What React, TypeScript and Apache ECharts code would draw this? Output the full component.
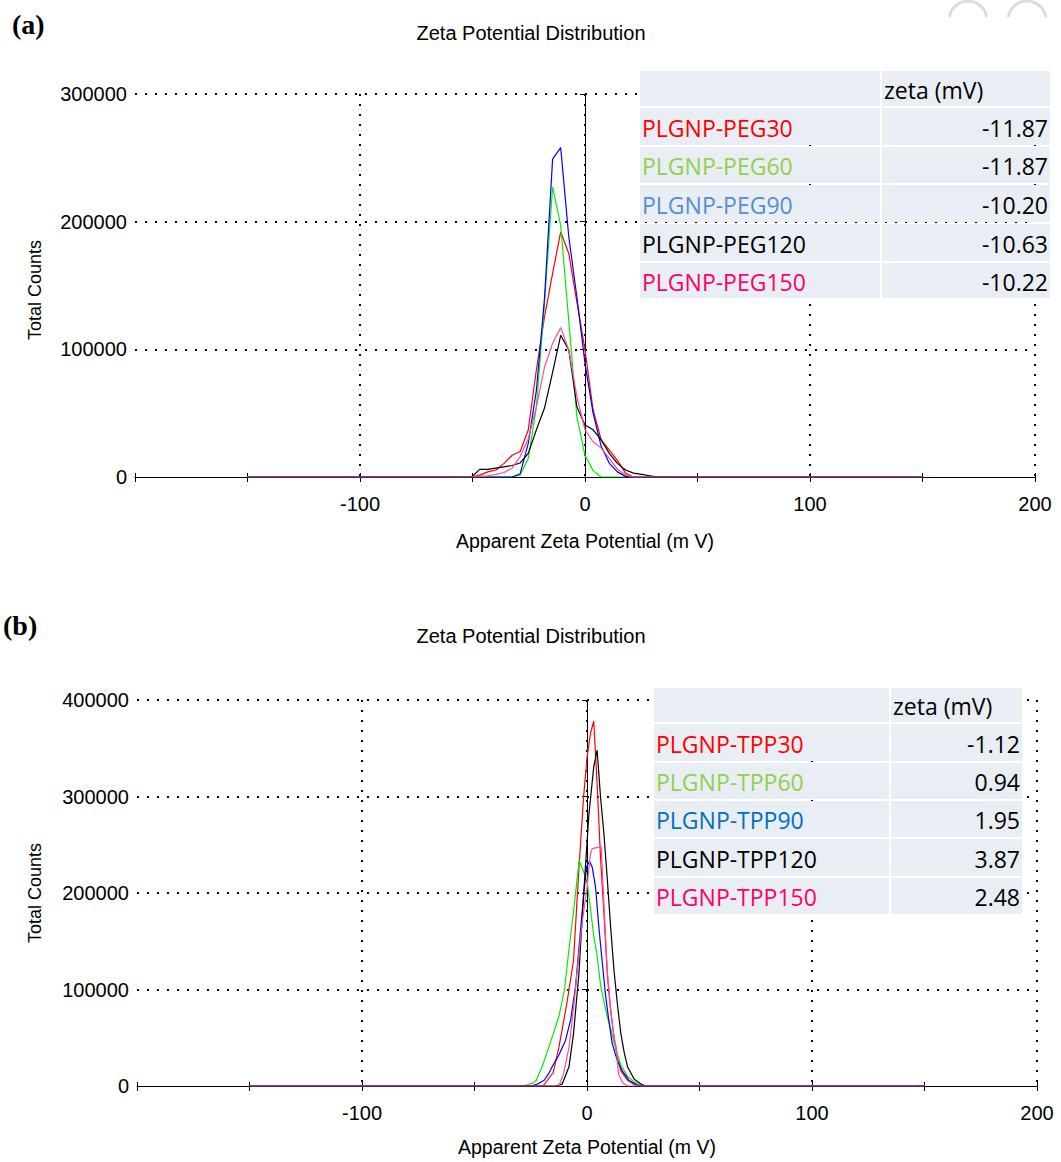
import React, { useEffect, useRef } from 'react';
import * as echarts from 'echarts';

// ---------- Panel (a) data ----------
const pegX = [-150, -50.4, -46.8, -43.2, -39.6, -36, -32.4, -28.8, -25.2, -21.6, -18, -14.4, -10.8, -7.2, -3.6, 0, 3.6, 7.2, 10.8, 14.4, 18, 21.6, 25.2, 28.8, 32.4, 150];
const peg30 = [0, 0, 1500, 4000, 5500, 10700, 17000, 20000, 37000, 84000, 125500, 159500, 192000, 175000, 137000, 99500, 52500, 29000, 21000, 13000, 3000, 0, 0, 0, 0, 0];
const peg60 = [0, 0, 0, 0, 0, 0, 0, 1500, 14600, 55000, 136000, 227000, 197000, 122000, 47000, 17000, 5000, 0, 0, 0, 0, 0, 0, 0, 0, 0];
const peg90 = [0, 0, 0, 0, 0, 0, 0, 2600, 26600, 68000, 140000, 249000, 258000, 188000, 141000, 89000, 50000, 24000, 10700, 4000, 500, 0, 0, 0, 0, 0];
const peg120 = [0, 0, 6000, 6000, 7000, 8000, 9000, 11000, 18500, 37000, 54000, 82000, 111000, 99500, 55000, 40700, 37000, 29000, 18500, 10700, 5500, 3000, 2000, 1000, 0, 0];
const peg150 = [0, 0, 500, 1000, 2000, 3500, 7000, 16000, 30000, 55000, 86000, 104700, 117000, 99500, 63000, 37000, 27600, 22600, 14600, 6000, 1500, 0, 0, 0, 0, 0];

const pegNames = ['PLGNP-PEG30', 'PLGNP-PEG60', 'PLGNP-PEG90', 'PLGNP-PEG120', 'PLGNP-PEG150'];
const pegZeta = ['-11.87', '-11.87', '-10.20', '-10.63', '-10.22'];
const pegTextColors = ['#ff0000', '#92d050', '#558ed5', '#000000', '#ff0066'];

// ---------- Panel (b) data: [mV, counts] ----------
const tpp30 = [[-150, 0], [-19.5, 0], [-15, 14000], [-12.5, 40000], [-9, 85000], [-6, 130000], [-3.6, 225000], [-1.5, 300000], [0, 340000], [1.5, 365000], [3, 378000], [4.5, 313000], [6, 237000], [7.5, 180000], [9, 116000], [10.5, 78000], [12, 51000], [13.5, 30000], [15, 16000], [18, 6000], [21, 1500], [24, 0], [150, 0]];
const tpp60 = [[-150, 0], [-30, 0], [-27, 1000], [-24, 3000], [-22.5, 6000], [-20, 20000], [-18, 33000], [-15, 54000], [-12.5, 72000], [-10, 100000], [-8, 142000], [-6, 180000], [-3.5, 234000], [-1.5, 222000], [0, 212000], [1.5, 185000], [3, 155000], [4.5, 135000], [6, 105000], [7.5, 88000], [9, 72000], [10.5, 60000], [12, 45000], [13.5, 33000], [15, 22000], [18, 10000], [21, 4000], [24, 1000], [26, 0], [150, 0]];
const tpp90 = [[-150, 0], [-25, 0], [-22, 2000], [-19, 6000], [-17, 13000], [-15.5, 20000], [-12.5, 32000], [-9.6, 47000], [-7.3, 68000], [-5.1, 103000], [-3, 158000], [-1.4, 200000], [-0.2, 227000], [1.1, 233000], [2.3, 227000], [3.8, 206000], [5.3, 164000], [6.7, 130000], [8.2, 95000], [9.7, 68000], [11.2, 44000], [13.4, 27000], [15.6, 16000], [18.6, 6000], [22.3, 1000], [25, 0], [150, 0]];
const tpp120 = [[-150, 0], [-14, 0], [-11, 2000], [-8, 20000], [-6, 54000], [-3.6, 116000], [-2, 180000], [-0.7, 227000], [0.8, 280000], [3, 331000], [4.5, 348000], [6, 300000], [7.5, 262000], [9, 215000], [10.5, 165000], [12, 120000], [13.5, 85000], [15, 55000], [16.5, 35000], [18, 20000], [21, 7000], [24, 2000], [26, 0], [150, 0]];
const tpp150 = [[-150, 0], [-12.5, 0], [-10.5, 12000], [-8, 40000], [-6, 80000], [-3.6, 137000], [-2, 172000], [0, 206000], [1.5, 240000], [2.3, 246000], [6.3, 248000], [7.5, 190000], [9, 120000], [10.5, 80000], [12, 50000], [13, 40000], [14, 12000], [16, 3000], [18, 0], [150, 0]];

const tppNames = ['PLGNP-TPP30', 'PLGNP-TPP60', 'PLGNP-TPP90', 'PLGNP-TPP120', 'PLGNP-TPP150'];
const tppZeta = ['-1.12', '0.94', '1.95', '3.87', '2.48'];
const tppTextColors = ['#ff0000', '#92d050', '#0070c0', '#000000', '#ff0066'];

const lineColors = ['#ff0000', '#00ee00', '#0000ff', '#000000', '#ff4aa0'];

const chartTitle = 'Zeta Potential Distribution';
const xName = 'Apparent Zeta Potential (m V)';
const yName = 'Total Counts';
const headerText = 'zeta (mV)';

const SANS = '"Liberation Sans", Arial, sans-serif';
const TABLE_FONT = '"Open Sans", sans-serif';
const dotted = { color: '#000', type: [2, 8] as any, width: 2 };

function xAxes(grid: number) {
  return [
    {
      type: 'value', gridIndex: grid, position: 'bottom', min: -200, max: 200, interval: 50,
      axisLine: { show: true, onZero: false, lineStyle: { color: '#000', width: 1 } },
      axisTick: { show: true, length: 5, lineStyle: { color: '#000' } },
      axisLabel: {
        color: '#000', fontSize: 20, fontFamily: SANS, margin: 17,
        formatter: (v: number) => (v % 100 === 0 && v !== -200 ? String(v) : ''),
      },
      splitLine: { show: false },
    },
    {
      type: 'value', gridIndex: grid, position: 'bottom', min: -200, max: 200, interval: 100,
      axisLine: { show: false }, axisTick: { show: false }, axisLabel: { show: false },
      splitLine: { show: true, showMinLine: false, lineStyle: dotted },
    },
    {
      type: 'value', gridIndex: grid, position: 'bottom', min: -200, max: 200, interval: 50,
      axisLine: { show: false }, axisLabel: { show: false },
      axisTick: { show: true, inside: true, length: 4, lineStyle: { color: '#000' } },
      splitLine: { show: false },
    },
  ];
}

function yAxis(grid: number, max: number) {
  return {
    type: 'value', gridIndex: grid, min: 0, max, interval: 100000,
    axisLine: { show: true, lineStyle: { color: '#000', width: 1 } },
    axisTick: { show: true, length: 5, lineStyle: { color: '#000' } },
    axisLabel: { color: '#000', fontSize: 20, fontFamily: SANS, margin: 8, formatter: (v: number) => String(v) },
    splitLine: { show: true, showMinLine: false, lineStyle: dotted },
  };
}

function lineSeries(data: number[][], idx: number, xi: number, yi: number) {
  return {
    type: 'line', xAxisIndex: xi, yAxisIndex: yi, data, showSymbol: false, symbol: 'none',
    lineStyle: { color: lineColors[idx], width: 1.2 }, itemStyle: { color: lineColors[idx] },
    z: 3 + idx, silent: true,
  };
}

function table(names: string[], zeta: string[], colors: string[], cols: number[], rows: number[]) {
  const els: any[] = [];
  for (let r = 0; r < rows.length - 1; r++) {
    for (let c = 0; c < cols.length - 1; c++) {
      els.push({
        type: 'rect',
        shape: { x: cols[c] + 1, y: rows[r] + 1, width: cols[c + 1] - cols[c] - 2, height: rows[r + 1] - rows[r] - 2 },
        style: { fill: '#e9edf4' },
        z: 10,
      });
    }
  }
  const cy = (r: number) => (rows[r] + rows[r + 1]) / 2 + 1;
  els.push({
    type: 'text', x: cols[1] + 3, y: cy(0), z: 11,
    style: { text: headerText, fill: '#000', font: `23px ${TABLE_FONT}`, textAlign: 'left', textVerticalAlign: 'middle' },
  });
  names.forEach((n, i) => {
    els.push({
      type: 'text', x: cols[0] + 3, y: cy(i + 1), z: 11,
      style: { text: n, fill: colors[i], font: `23px ${TABLE_FONT}`, textAlign: 'left', textVerticalAlign: 'middle' },
    });
    els.push({
      type: 'text', x: cols[2] - 3, y: cy(i + 1), z: 11,
      style: { text: zeta[i], fill: '#000', font: `23px ${TABLE_FONT}`, textAlign: 'right', textVerticalAlign: 'middle' },
    });
  });
  return els;
}

function texts(panel: string, px: number, py: number, titleY: number, xNameX: number, xNameY: number, yNameY: number) {
  return [
    { type: 'text', x: px, y: py, style: { text: panel, fill: '#000', font: `bold 28px "Liberation Serif", serif`, textAlign: 'left', textVerticalAlign: 'middle' } },
    { type: 'text', x: 531, y: titleY, style: { text: chartTitle, fill: '#000', font: `20px ${SANS}`, textAlign: 'center', textVerticalAlign: 'middle' } },
    { type: 'text', x: xNameX, y: xNameY, style: { text: xName, fill: '#000', font: `19.5px ${SANS}`, textAlign: 'center', textVerticalAlign: 'middle' } },
    { type: 'text', x: 35, y: yNameY, rotation: Math.PI / 2, style: { text: yName, fill: '#000', font: `18px ${SANS}`, textAlign: 'center', textVerticalAlign: 'middle' } },
  ];
}

export default function App() {
  const ref = useRef<HTMLDivElement>(null);
  useEffect(() => {
    const chart = echarts.init(ref.current!, null, { renderer: 'svg' });
    const pegSeries = [peg30, peg60, peg90, peg120, peg150].map((arr, i) =>
      lineSeries(pegX.map((x, j) => [x, arr[j]]), i, 0, 0)
    );
    const tppSeries = [tpp30, tpp60, tpp90, tpp120, tpp150].map((arr, i) => lineSeries(arr, i, 3, 1));
    const option: any = {
      animation: false,
      backgroundColor: '#ffffff',
      grid: [
        { left: 135, top: 94, width: 900, height: 383 },
        { left: 137, top: 700, width: 900, height: 386 },
      ],
      xAxis: [...xAxes(0), ...xAxes(1)],
      yAxis: [yAxis(0, 300000), yAxis(1, 400000)],
      series: [...pegSeries, ...tppSeries],
      graphic: [
        ...texts('(a)', 12, 24, 33, 585, 541, 290),
        ...texts('(b)', 3, 625, 636, 587, 1147, 893),
        ...table(pegNames, pegZeta, pegTextColors, [639, 881, 1051], [70, 107, 146, 184, 223, 262, 299]),
        ...table(tppNames, tppZeta, tppTextColors, [653, 890, 1023], [687, 723, 762, 800, 838, 877, 915]),
        { type: 'arc', shape: { cx: 968, cy: 20, r: 19, startAngle: Math.PI + 0.15, endAngle: 2 * Math.PI - 0.15 }, style: { stroke: '#dcdcdc', lineWidth: 3, fill: 'none' } },
        { type: 'arc', shape: { cx: 1027, cy: 20, r: 19, startAngle: Math.PI + 0.15, endAngle: 2 * Math.PI - 0.15 }, style: { stroke: '#dcdcdc', lineWidth: 3, fill: 'none' } },
      ],
    };
    chart.setOption(option);
    return () => chart.dispose();
  }, []);
  return (
    <div
      ref={ref}
      style={{ position: 'absolute', left: 0, top: 0, width: 1061, height: 1162, background: '#fff' }}
    />
  );
}
